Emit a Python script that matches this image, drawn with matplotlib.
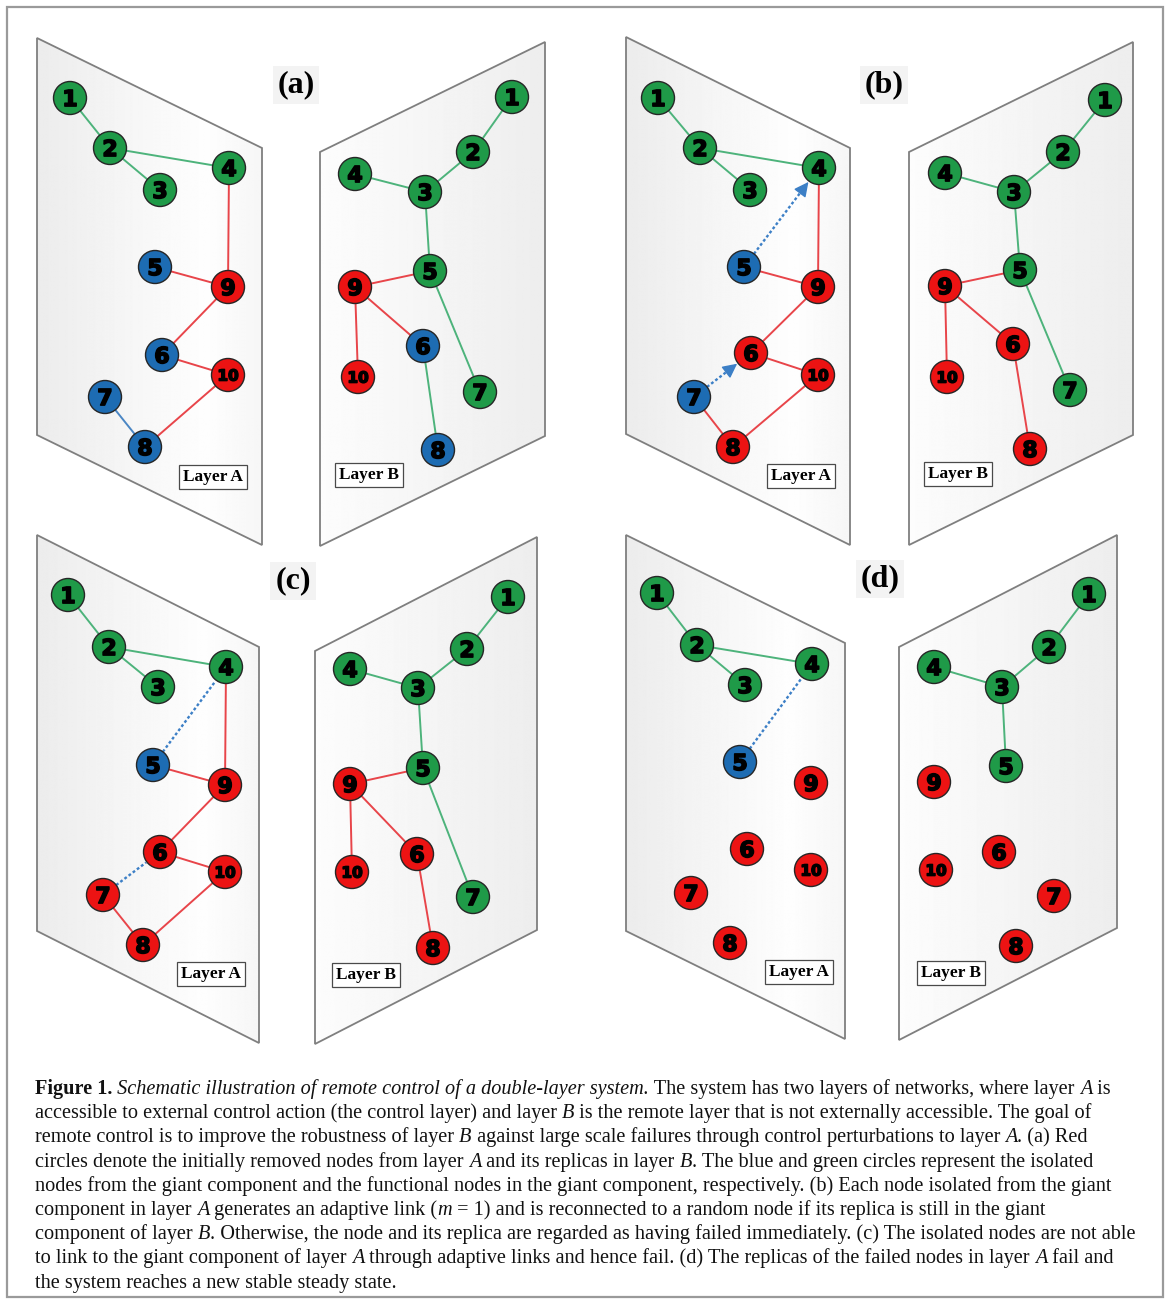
import matplotlib
matplotlib.use('Agg')
import matplotlib.pyplot as plt
from matplotlib.patches import Polygon, Circle, Rectangle
from matplotlib.font_manager import FontProperties
import matplotlib.patheffects as pe
import numpy as np

# ---------------------------------------------------------------- data
PANELS = ['a', 'b', 'c', 'd']
PANEL_LABELS = {'a': '(a)', 'b': '(b)', 'c': '(c)', 'd': '(d)'}
LAYER_NAMES = ['Layer A', 'Layer B']

# node positions (pixel space of the figure), node id -> (x, y)
NODES_A_a = {1: (70, 98), 2: (110, 148), 3: (160, 190), 4: (229, 168), 5: (155, 267),
             6: (162, 355), 7: (105, 397), 8: (145, 447), 9: (228, 287), 10: (228, 375)}
NODES_B_a = {1: (512, 97), 2: (473, 152), 3: (425, 192), 4: (355, 174), 5: (430, 271),
             6: (423, 346), 7: (480, 392), 8: (438, 450), 9: (355, 287), 10: (358, 377)}
NODES_A_b = {1: (658, 98), 2: (700, 148), 3: (750, 190), 4: (819, 168), 5: (744, 267),
             6: (751, 353), 7: (694, 397), 8: (733, 447), 9: (818, 287), 10: (818, 375)}
NODES_B_b = {1: (1105, 100), 2: (1063, 152), 3: (1014, 192), 4: (945, 173), 5: (1020, 270),
             6: (1013, 344), 7: (1070, 390), 8: (1030, 449), 9: (945, 286), 10: (947, 377)}
NODES_A_c = {1: (68, 595), 2: (109, 647), 3: (158, 687), 4: (226, 667), 5: (153, 765),
             6: (160, 852), 7: (103, 895), 8: (143, 945), 9: (225, 785), 10: (225, 872)}
NODES_B_c = {1: (508, 597), 2: (467, 649), 3: (418, 688), 4: (350, 669), 5: (423, 768),
             6: (417, 854), 7: (473, 897), 8: (433, 948), 9: (350, 784), 10: (352, 872)}
NODES_A_d = {1: (657, 593), 2: (697, 645), 3: (745, 685), 4: (812, 664), 5: (740, 762),
             6: (747, 849), 7: (691, 893), 8: (730, 943), 9: (811, 783), 10: (811, 870)}
NODES_B_d = {1: (1089, 594), 2: (1049, 647), 3: (1002, 687), 4: (934, 667), 5: (1006, 766),
             6: (999, 852), 7: (1054, 896), 8: (1016, 946), 9: (934, 782), 10: (936, 870)}

# node states for nodes 1..10: g = functional, r = removed/failed, b = isolated
STATE_A_a = ['g', 'g', 'g', 'g', 'b', 'b', 'b', 'b', 'r', 'r']
STATE_B_a = ['g', 'g', 'g', 'g', 'g', 'b', 'g', 'b', 'r', 'r']
STATE_A_b = ['g', 'g', 'g', 'g', 'b', 'r', 'b', 'r', 'r', 'r']
STATE_B_b = ['g', 'g', 'g', 'g', 'g', 'r', 'g', 'r', 'r', 'r']
STATE_A_c = ['g', 'g', 'g', 'g', 'b', 'r', 'r', 'r', 'r', 'r']
STATE_B_c = ['g', 'g', 'g', 'g', 'g', 'r', 'g', 'r', 'r', 'r']
STATE_A_d = ['g', 'g', 'g', 'g', 'b', 'r', 'r', 'r', 'r', 'r']
STATE_B_d = ['g', 'g', 'g', 'g', 'g', 'r', 'r', 'r', 'r', 'r']

# links: (node, node, colour state)
EDGES_A_a = [(1, 2, 'g'), (2, 3, 'g'), (2, 4, 'g'), (4, 9, 'r'), (5, 9, 'r'),
             (9, 6, 'r'), (6, 10, 'r'), (10, 8, 'r'), (7, 8, 'b')]
EDGES_B_a = [(1, 2, 'g'), (2, 3, 'g'), (4, 3, 'g'), (3, 5, 'g'), (5, 7, 'g'),
             (5, 9, 'r'), (9, 10, 'r'), (9, 6, 'r'), (6, 8, 'g')]
EDGES_A_b = [(1, 2, 'g'), (2, 3, 'g'), (2, 4, 'g'), (4, 9, 'r'), (5, 9, 'r'),
             (9, 6, 'r'), (6, 10, 'r'), (10, 8, 'r'), (7, 8, 'r')]
EDGES_B_b = [(1, 2, 'g'), (2, 3, 'g'), (4, 3, 'g'), (3, 5, 'g'), (5, 7, 'g'),
             (5, 9, 'r'), (9, 10, 'r'), (9, 6, 'r'), (6, 8, 'r')]
EDGES_A_c = EDGES_A_b
EDGES_B_c = EDGES_B_b
EDGES_A_d = [(1, 2, 'g'), (2, 3, 'g'), (2, 4, 'g')]
EDGES_B_d = [(1, 2, 'g'), (2, 3, 'g'), (4, 3, 'g'), (3, 5, 'g')]

# adaptive links (from isolated node -> target node)
ADAPTIVE_A_b = [(5, 4), (7, 6)]
ADAPTIVE_A_c = [(5, 4), (7, 6)]
ADAPTIVE_A_d = [(5, 4)]
ADAPTIVE_ARROWS = {'b': True, 'c': False, 'd': False}

CAPTION_LINES = [
    [('Figure 1.', 'b'), (' Schematic illustration of remote control of a double-layer system.', 'i'),
     (' The system has two layers of networks, where layer ', 'r'), ('A', 'i'), (' is', 'r')],
    [('accessible to external control action (the control layer) and layer ', 'r'), ('B', 'i'),
     (' is the remote layer that is not externally accessible. The goal of', 'r')],
    [('remote control is to improve the robustness of layer ', 'r'), ('B', 'i'),
     (' against large scale failures through control perturbations to layer ', 'r'), ('A', 'i'),
     ('. (a) Red', 'r')],
    [('circles denote the initially removed nodes from layer ', 'r'), ('A', 'i'),
     (' and its replicas in layer ', 'r'), ('B', 'i'),
     ('. The blue and green circles represent the isolated', 'r')],
    [('nodes from the giant component and the functional nodes in the giant component, respectively. '
      '(b) Each node isolated from the giant', 'r')],
    [('component in layer ', 'r'), ('A', 'i'), (' generates an adaptive link (', 'r'), ('m', 'i'),
     (' = 1) and is reconnected to a random node if its replica is still in the giant', 'r')],
    [('component of layer ', 'r'), ('B', 'i'),
     ('. Otherwise, the node and its replica are regarded as having failed immediately. '
      '(c) The isolated nodes are not able', 'r')],
    [('to link to the giant component of layer ', 'r'), ('A', 'i'),
     (' through adaptive links and hence fail. (d) The replicas of the failed nodes in layer ', 'r'),
     ('A', 'i'), (' fail and', 'r')],
    [('the system reaches a new stable steady state.', 'r')],
]

# ---------------------------------------------------------------- layout / style
W, H = 1170, 1305
# plates: (x_left, x_right, y_top_left, y_top_right, height)
PLATE_A = {'a': (37, 262, 38, 148, 397), 'b': (626, 850, 37, 148, 397),
           'c': (37, 259, 535, 647, 396), 'd': (626, 845, 535, 643, 396)}
PLATE_B = {'a': (320, 545, 152, 42, 394), 'b': (909, 1133, 152, 42, 393),
           'c': (315, 537, 651, 537, 393), 'd': (899, 1117, 647, 535, 393)}
LABEL_POS = {'a': (296, 85), 'b': (884, 85), 'c': (293, 581), 'd': (880, 579)}
LAYER_BOX_A = {'a': (213, 477), 'b': (801, 476), 'c': (211, 974), 'd': (799, 972)}
LAYER_BOX_B = {'a': (369, 475), 'b': (958, 474), 'c': (366, 975), 'd': (951, 973)}

NODE_FILL = {'g': '#1f9a48', 'r': '#ec1313', 'b': '#1d6cb3'}
EDGE_COL = {'g': '#4db37b', 'r': '#e8454a', 'b': '#4a86c4'}
DOT_COL = '#3c7fc6'
R = 16.5

fig = plt.figure(figsize=(W / 100, H / 100), dpi=100)
ax = fig.add_axes([0, 0, 1, 1])
ax.set_xlim(0, W)
ax.set_ylim(H, 0)
ax.axis('off')

# outer frame
ax.add_patch(Rectangle((7, 7), W - 14, H - 15, fill=False, ec='#9a9a9a', lw=1.6, zorder=0))


def plate(spec, side):
    xl, xr, ytl, ytr, h = spec
    verts = [(xl, ytl), (xr, ytr), (xr, ytr + h), (xl, ytl + h)]
    poly = Polygon(verts, closed=True, fc='none', ec='#7f7f7f', lw=1.3, zorder=2)
    ax.add_patch(poly)
    clip = Polygon(verts, closed=True, transform=ax.transData)
    t = np.linspace(0, 1, 256)
    if side == 'A':
        v = 0.925 + 0.07 * np.clip(t / 0.75, 0, 1) - 0.03 * np.clip((t - 0.75) / 0.25, 0, 1)
    else:
        v = 0.99 - 0.06 * t
    img = np.repeat(v[None, :], 2, axis=0)
    im = ax.imshow(img, cmap='gray', vmin=0, vmax=1, extent=(xl, xr, max(ytl, ytr) + h, min(ytl, ytr)),
                   aspect='auto', zorder=1, interpolation='bilinear')
    im.set_clip_path(clip)


DIGIT_FX = [pe.withStroke(linewidth=1.1, foreground='black')]


def network(nodes, states, edges):
    for a, b, c in edges:
        (x1, y1), (x2, y2) = nodes[a], nodes[b]
        ax.plot([x1, x2], [y1, y2], color=EDGE_COL[c], lw=1.4, zorder=3, solid_capstyle='butt')
    for k, (x, y) in nodes.items():
        ax.add_patch(Circle((x, y), R, fc=NODE_FILL[states[k - 1]], ec='#262626', lw=1.0, zorder=5))
        size = 16 if k < 10 else 11
        em = size * 100 / 72
        ax.text(x, y + 0.365 * em, str(k), ha='center', va='baseline', fontsize=size,
                fontweight='bold', family='DejaVu Sans', color='black', zorder=6,
                path_effects=DIGIT_FX)


def adaptive(nodes, links, arrow):
    for s, t in links:
        p1, p2 = np.array(nodes[s], float), np.array(nodes[t], float)
        u = (p2 - p1) / np.linalg.norm(p2 - p1)
        start = p1 + u * R
        tip = p2 - u * (R + 1)
        end = tip - u * 13 if arrow else tip
        ax.plot([start[0], end[0]], [start[1], end[1]], color=DOT_COL, lw=1.7,
                linestyle=(0, (1.2, 1.0)), zorder=4)
        if arrow:
            ax.annotate('', xy=tip, xytext=end,
                        arrowprops=dict(arrowstyle='-|>', mutation_scale=22, color=DOT_COL,
                                        lw=1.0, shrinkA=0, shrinkB=0), zorder=4)


serif_bold = dict(family='Liberation Serif', fontweight='bold')

panel_data = {
    'a': (NODES_A_a, STATE_A_a, EDGES_A_a, NODES_B_a, STATE_B_a, EDGES_B_a, []),
    'b': (NODES_A_b, STATE_A_b, EDGES_A_b, NODES_B_b, STATE_B_b, EDGES_B_b, ADAPTIVE_A_b),
    'c': (NODES_A_c, STATE_A_c, EDGES_A_c, NODES_B_c, STATE_B_c, EDGES_B_c, ADAPTIVE_A_c),
    'd': (NODES_A_d, STATE_A_d, EDGES_A_d, NODES_B_d, STATE_B_d, EDGES_B_d, ADAPTIVE_A_d),
}

for p in PANELS:
    nA, sA, eA, nB, sB, eB, ad = panel_data[p]
    plate(PLATE_A[p], 'A')
    plate(PLATE_B[p], 'B')
    network(nA, sA, eA)
    network(nB, sB, eB)
    if ad:
        adaptive(nA, ad, ADAPTIVE_ARROWS[p])
    lx, ly = LABEL_POS[p]
    ax.text(lx, ly, PANEL_LABELS[p], ha='center', va='center', fontsize=23, zorder=7,
            bbox=dict(boxstyle='square,pad=0.15', fc='#f3f3f3', ec='none'), **serif_bold)
    for (bx, by), name in ((LAYER_BOX_A[p], LAYER_NAMES[0]), (LAYER_BOX_B[p], LAYER_NAMES[1])):
        ax.text(bx, by, name, ha='center', va='center', fontsize=12.5, zorder=7,
                bbox=dict(boxstyle='square,pad=0.25', fc='white', ec='#4a4a4a', lw=0.9), **serif_bold)

# ---------------------------------------------------------------- caption
renderer = fig.canvas.get_renderer()
STYLES = {'r': FontProperties(family='Liberation Serif'),
          'i': FontProperties(family='Liberation Serif', style='italic'),
          'b': FontProperties(family='Liberation Serif', weight='bold')}


def seg_width(s, style, size):
    fp = STYLES[style].copy()
    fp.set_size(size)
    w1 = renderer.get_text_width_height_descent('|' + s + '|', fp, False)[0]
    w0 = renderer.get_text_width_height_descent('||', fp, False)[0]
    return w1 - w0


X0 = 35
TARGET_W = 1135 - X0
base = 10.0
wref = sum(seg_width(s, st, base) for s, st in CAPTION_LINES[6])
CAP_SIZE = base * TARGET_W / wref
Y0, DY = 1094, 24.2
for i, line in enumerate(CAPTION_LINES):
    x = X0
    y = Y0 + i * DY
    for s, st in line:
        fp = STYLES[st].copy()
        fp.set_size(CAP_SIZE)
        ax.text(x, y, s, fontproperties=fp, ha='left', va='baseline', color='#111111', zorder=7)
        x += seg_width(s, st, CAP_SIZE)

fig.savefig('out.png', dpi=100)
